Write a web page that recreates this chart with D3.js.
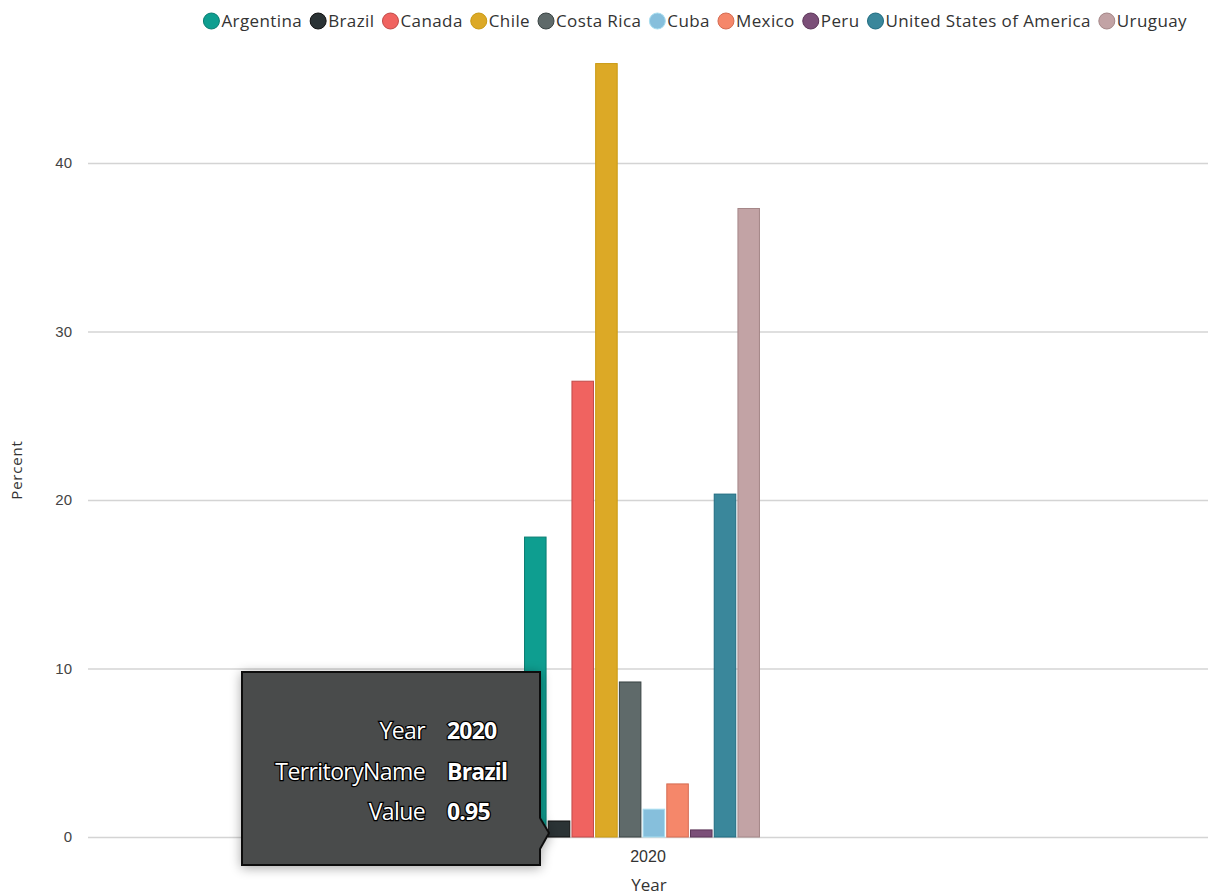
<!DOCTYPE html>
<html><head><meta charset="utf-8">
<script src="https://cdn.jsdelivr.net/npm/d3@7"></script>
<style>
html,body{margin:0;padding:0;background:#fff;}
svg{display:block;font-family:"Segoe UI","Open Sans","Noto Sans",sans-serif;}
</style></head>
<body>
<svg id="c" width="1208" height="895"></svg>
<script>
const years = ["2020"];
const territories = ["Argentina","Brazil","Canada","Chile","Costa Rica","Cuba","Mexico","Peru","United States of America","Uruguay"];
const values = [17.8, 0.95, 27.05, 45.9, 9.2, 1.65, 3.15, 0.42, 20.35, 37.3];
const colors = ["#0e9e90","#2b3335","#f06360","#dca926","#5f6a6a","#86bfdc","#f5876a","#7b4f78","#3a879b","#c2a3a5"];
const strokes = ["#0a7d72","#111","#c04a48","#c99a12","#3a4444","#a8def0","#d56c52","#5c3659","#1f6b80","#a58788"];
const yTicks = [0,10,20,30,40];
const tooltipRows = [["Year","2020"],["TerritoryName","Brazil"],["Value","0.95"]];

const svg = d3.select("#c");
const W = 1208;

const y = d3.scaleLinear().domain([0,40]).range([837,163]);
const x0 = d3.scaleBand().domain(years).range([76,1208]).paddingInner(0).paddingOuter(1.899);
const x1 = d3.scaleBand().domain(territories).range([0,x0.bandwidth()]).paddingInner(0.05);

// gridlines
const yAxis = d3.axisLeft(y).tickValues(yTicks).tickSize(-(W-88)).tickPadding(16);
const gy = svg.append("g").attr("transform","translate(88,0)").call(yAxis);
gy.select(".domain").remove();
gy.selectAll(".tick line").attr("stroke","#d4d4d4").attr("stroke-width",1.5);
gy.selectAll(".tick text").attr("fill","#444").attr("font-size",15);

svg.append("text").attr("transform","translate(22,470) rotate(-90)")
  .attr("text-anchor","middle").attr("font-size",15).attr("fill","#333").attr("letter-spacing",0.8).text("Percent");

// bars
const g = svg.append("g").attr("transform",`translate(${x0("2020")},0)`);
g.selectAll("rect").data(territories).join("rect")
  .attr("x",d=>x1(d)+0.5).attr("width",x1.bandwidth()-1)
  .attr("y",(d,i)=>y(values[i])).attr("height",(d,i)=>y(0)-y(values[i]))
  .attr("fill",(d,i)=>colors[i]).attr("stroke",(d,i)=>strokes[i]).attr("stroke-width",1);

// x axis
const xAxis = d3.axisBottom(x0).tickSize(0).tickPadding(13);
const gx = svg.append("g").attr("transform","translate(6,838)").call(xAxis);
gx.select(".domain").remove();
gx.selectAll(".tick text").attr("fill","#333").attr("font-size",16);
svg.append("text").attr("x",649).attr("y",891).attr("text-anchor","middle").attr("font-size",17).attr("fill","#333").text("Year");

// legend
const lg = svg.append("g").attr("font-size",17).attr("letter-spacing",0.4);
const tmp = lg.append("text").attr("visibility","hidden");
const widths = territories.map(t=>{tmp.text(t);return tmp.node().getComputedTextLength();});
tmp.remove();
const itemW = widths.map(w=>8+8+3+w+7);
const total = d3.sum(itemW);
let cx = 1195 - total;
territories.forEach((t,i)=>{
  const it = lg.append("g").attr("transform",`translate(${cx},21)`);
  it.append("circle").attr("cx",8).attr("cy",0).attr("r",8).attr("fill",colors[i]).attr("stroke",strokes[i]).attr("stroke-width",1);
  it.append("text").attr("x",18).attr("y",6).attr("fill","#333").text(t);
  cx += itemW[i];
});

// tooltip
const defs = svg.append("defs");
const f = defs.append("filter").attr("id","sh").attr("x","-20%").attr("y","-20%").attr("width","140%").attr("height","140%");
f.append("feGaussianBlur").attr("in","SourceAlpha").attr("stdDeviation",6).attr("result","b");
f.append("feOffset").attr("in","b").attr("dx",0).attr("dy",2).attr("result","o");
f.append("feComponentTransfer").attr("in","o").attr("result","o2").append("feFuncA").attr("type","linear").attr("slope",0.35);
const m = f.append("feMerge"); m.append("feMergeNode").attr("in","o2"); m.append("feMergeNode").attr("in","SourceGraphic");

const tip = svg.append("g");
const tx0=242, tx1=540, ty0=672, ty1=865, px=549, py=833;
tip.append("path").attr("filter","url(#sh)")
  .attr("d",`M${tx0},${ty0}H${tx1}V${py-15}L${px},${py}L${tx1},${py+16}V${ty1}H${tx0}Z`)
  .attr("fill","#4a4b4b").attr("stroke","#111").attr("stroke-width",2);
tooltipRows.forEach((r,i)=>{
  const yy = 739 + i*40.5;
  tip.append("text").attr("x",425).attr("y",yy).attr("text-anchor","end")
    .attr("font-size",23).attr("fill","#fff").attr("stroke","#000").attr("stroke-width",2.5)
    .attr("paint-order","stroke").attr("letter-spacing",-0.6).text(r[0]);
  tip.append("text").attr("x",447).attr("y",yy).attr("text-anchor","start")
    .attr("font-size",23).attr("font-weight","bold").attr("fill","#fff").attr("stroke","#000").attr("stroke-width",2.5)
    .attr("paint-order","stroke").attr("letter-spacing",-0.8).text(r[1]);
});
</script>
</body></html>
